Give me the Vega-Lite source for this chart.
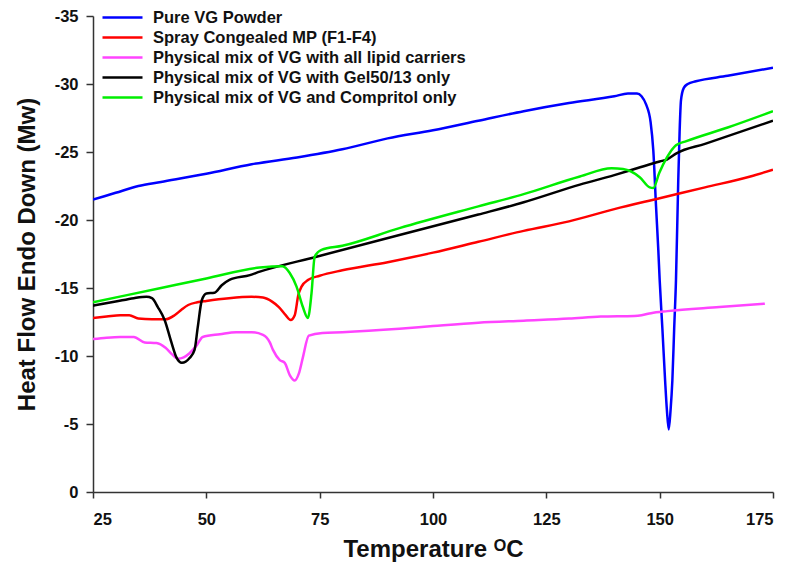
{
  "$schema": "https://vega.github.io/schema/vega-lite/v6.json",
  "autosize": "none",
  "width": 680,
  "height": 476,
  "padding": {"left": 93, "top": 16, "right": 17, "bottom": 79},
  "background": "white",
  "config": {
    "view": {"stroke": null},
    "font": "Liberation Sans"
  },
  "datasets": {
    "curves": [
      {"s": "Pure VG Powder", "t": 25, "v": -21.5},
      {"s": "Pure VG Powder", "t": 30, "v": -22.0},
      {"s": "Pure VG Powder", "t": 35, "v": -22.5},
      {"s": "Pure VG Powder", "t": 40, "v": -22.8},
      {"s": "Pure VG Powder", "t": 50, "v": -23.4},
      {"s": "Pure VG Powder", "t": 60, "v": -24.1},
      {"s": "Pure VG Powder", "t": 70, "v": -24.6},
      {"s": "Pure VG Powder", "t": 80, "v": -25.2},
      {"s": "Pure VG Powder", "t": 90, "v": -26.0},
      {"s": "Pure VG Powder", "t": 100, "v": -26.6},
      {"s": "Pure VG Powder", "t": 110, "v": -27.3},
      {"s": "Pure VG Powder", "t": 120, "v": -28.0},
      {"s": "Pure VG Powder", "t": 130, "v": -28.6},
      {"s": "Pure VG Powder", "t": 140, "v": -29.1},
      {"s": "Pure VG Powder", "t": 143, "v": -29.3},
      {"s": "Pure VG Powder", "t": 145, "v": -29.3},
      {"s": "Pure VG Powder", "t": 146, "v": -29.1},
      {"s": "Pure VG Powder", "t": 147, "v": -28.5},
      {"s": "Pure VG Powder", "t": 148, "v": -27.2},
      {"s": "Pure VG Powder", "t": 148.6, "v": -25.1},
      {"s": "Pure VG Powder", "t": 149.2, "v": -21.0},
      {"s": "Pure VG Powder", "t": 149.7, "v": -17.8},
      {"s": "Pure VG Powder", "t": 150.0, "v": -15.6},
      {"s": "Pure VG Powder", "t": 150.6, "v": -12.0},
      {"s": "Pure VG Powder", "t": 151.2, "v": -8.2},
      {"s": "Pure VG Powder", "t": 151.6, "v": -6.0},
      {"s": "Pure VG Powder", "t": 152.0, "v": -4.6},
      {"s": "Pure VG Powder", "t": 152.4, "v": -6.0},
      {"s": "Pure VG Powder", "t": 152.8, "v": -8.2},
      {"s": "Pure VG Powder", "t": 153.2, "v": -12.0},
      {"s": "Pure VG Powder", "t": 153.6, "v": -15.6},
      {"s": "Pure VG Powder", "t": 154.1, "v": -22.9},
      {"s": "Pure VG Powder", "t": 154.4, "v": -26.5},
      {"s": "Pure VG Powder", "t": 154.7, "v": -28.8},
      {"s": "Pure VG Powder", "t": 155.3, "v": -29.7},
      {"s": "Pure VG Powder", "t": 156.2, "v": -30.0},
      {"s": "Pure VG Powder", "t": 158, "v": -30.2},
      {"s": "Pure VG Powder", "t": 165, "v": -30.6},
      {"s": "Pure VG Powder", "t": 175, "v": -31.2},

      {"s": "Spray Congealed MP (F1-F4)", "t": 25, "v": -12.8},
      {"s": "Spray Congealed MP (F1-F4)", "t": 28, "v": -12.9},
      {"s": "Spray Congealed MP (F1-F4)", "t": 31, "v": -13.0},
      {"s": "Spray Congealed MP (F1-F4)", "t": 33, "v": -13.0},
      {"s": "Spray Congealed MP (F1-F4)", "t": 35, "v": -12.75},
      {"s": "Spray Congealed MP (F1-F4)", "t": 38, "v": -12.7},
      {"s": "Spray Congealed MP (F1-F4)", "t": 41, "v": -12.7},
      {"s": "Spray Congealed MP (F1-F4)", "t": 43, "v": -13.0},
      {"s": "Spray Congealed MP (F1-F4)", "t": 44.5, "v": -13.4},
      {"s": "Spray Congealed MP (F1-F4)", "t": 46, "v": -13.75},
      {"s": "Spray Congealed MP (F1-F4)", "t": 48, "v": -13.95},
      {"s": "Spray Congealed MP (F1-F4)", "t": 50, "v": -14.05},
      {"s": "Spray Congealed MP (F1-F4)", "t": 55, "v": -14.25},
      {"s": "Spray Congealed MP (F1-F4)", "t": 60, "v": -14.35},
      {"s": "Spray Congealed MP (F1-F4)", "t": 62.5, "v": -14.3},
      {"s": "Spray Congealed MP (F1-F4)", "t": 64.5, "v": -14.0},
      {"s": "Spray Congealed MP (F1-F4)", "t": 66, "v": -13.6},
      {"s": "Spray Congealed MP (F1-F4)", "t": 67.5, "v": -13.0},
      {"s": "Spray Congealed MP (F1-F4)", "t": 68.6, "v": -12.65},
      {"s": "Spray Congealed MP (F1-F4)", "t": 69.5, "v": -13.0},
      {"s": "Spray Congealed MP (F1-F4)", "t": 70.3, "v": -14.5},
      {"s": "Spray Congealed MP (F1-F4)", "t": 71, "v": -15.1},
      {"s": "Spray Congealed MP (F1-F4)", "t": 72.5, "v": -15.6},
      {"s": "Spray Congealed MP (F1-F4)", "t": 75, "v": -15.9},
      {"s": "Spray Congealed MP (F1-F4)", "t": 80, "v": -16.3},
      {"s": "Spray Congealed MP (F1-F4)", "t": 90, "v": -16.9},
      {"s": "Spray Congealed MP (F1-F4)", "t": 100, "v": -17.6},
      {"s": "Spray Congealed MP (F1-F4)", "t": 110, "v": -18.4},
      {"s": "Spray Congealed MP (F1-F4)", "t": 120, "v": -19.2},
      {"s": "Spray Congealed MP (F1-F4)", "t": 130, "v": -19.9},
      {"s": "Spray Congealed MP (F1-F4)", "t": 140, "v": -20.8},
      {"s": "Spray Congealed MP (F1-F4)", "t": 150, "v": -21.6},
      {"s": "Spray Congealed MP (F1-F4)", "t": 160, "v": -22.4},
      {"s": "Spray Congealed MP (F1-F4)", "t": 170, "v": -23.2},
      {"s": "Spray Congealed MP (F1-F4)", "t": 175, "v": -23.7},

      {"s": "Physical mix of VG with all lipid carriers", "t": 25, "v": -11.25},
      {"s": "Physical mix of VG with all lipid carriers", "t": 28, "v": -11.35},
      {"s": "Physical mix of VG with all lipid carriers", "t": 31, "v": -11.4},
      {"s": "Physical mix of VG with all lipid carriers", "t": 34, "v": -11.4},
      {"s": "Physical mix of VG with all lipid carriers", "t": 36.4, "v": -11.0},
      {"s": "Physical mix of VG with all lipid carriers", "t": 39, "v": -10.95},
      {"s": "Physical mix of VG with all lipid carriers", "t": 41, "v": -10.6},
      {"s": "Physical mix of VG with all lipid carriers", "t": 42.5, "v": -10.1},
      {"s": "Physical mix of VG with all lipid carriers", "t": 43.7, "v": -9.8},
      {"s": "Physical mix of VG with all lipid carriers", "t": 45, "v": -9.9},
      {"s": "Physical mix of VG with all lipid carriers", "t": 46.3, "v": -10.2},
      {"s": "Physical mix of VG with all lipid carriers", "t": 47.9, "v": -10.8},
      {"s": "Physical mix of VG with all lipid carriers", "t": 49.2, "v": -11.4},
      {"s": "Physical mix of VG with all lipid carriers", "t": 53, "v": -11.6},
      {"s": "Physical mix of VG with all lipid carriers", "t": 56.6, "v": -11.75},
      {"s": "Physical mix of VG with all lipid carriers", "t": 60, "v": -11.75},
      {"s": "Physical mix of VG with all lipid carriers", "t": 62.5, "v": -11.55},
      {"s": "Physical mix of VG with all lipid carriers", "t": 64, "v": -11.0},
      {"s": "Physical mix of VG with all lipid carriers", "t": 64.7, "v": -10.45},
      {"s": "Physical mix of VG with all lipid carriers", "t": 66.2, "v": -9.7},
      {"s": "Physical mix of VG with all lipid carriers", "t": 67.3, "v": -9.5},
      {"s": "Physical mix of VG with all lipid carriers", "t": 68.4, "v": -8.6},
      {"s": "Physical mix of VG with all lipid carriers", "t": 69.5, "v": -8.2},
      {"s": "Physical mix of VG with all lipid carriers", "t": 70.4, "v": -8.7},
      {"s": "Physical mix of VG with all lipid carriers", "t": 71.3, "v": -9.9},
      {"s": "Physical mix of VG with all lipid carriers", "t": 72.6, "v": -11.5},
      {"s": "Physical mix of VG with all lipid carriers", "t": 75.6, "v": -11.7},
      {"s": "Physical mix of VG with all lipid carriers", "t": 80, "v": -11.75},
      {"s": "Physical mix of VG with all lipid carriers", "t": 92.6, "v": -12.0},
      {"s": "Physical mix of VG with all lipid carriers", "t": 100, "v": -12.2},
      {"s": "Physical mix of VG with all lipid carriers", "t": 110, "v": -12.45},
      {"s": "Physical mix of VG with all lipid carriers", "t": 120, "v": -12.6},
      {"s": "Physical mix of VG with all lipid carriers", "t": 130, "v": -12.75},
      {"s": "Physical mix of VG with all lipid carriers", "t": 137, "v": -12.9},
      {"s": "Physical mix of VG with all lipid carriers", "t": 144.4, "v": -12.95},
      {"s": "Physical mix of VG with all lipid carriers", "t": 146, "v": -13.0},
      {"s": "Physical mix of VG with all lipid carriers", "t": 148.1, "v": -13.15},
      {"s": "Physical mix of VG with all lipid carriers", "t": 151.7, "v": -13.3},
      {"s": "Physical mix of VG with all lipid carriers", "t": 163.2, "v": -13.6},
      {"s": "Physical mix of VG with all lipid carriers", "t": 173.2, "v": -13.85},

      {"s": "Physical mix of VG with Gel50/13 only", "t": 25, "v": -13.7},
      {"s": "Physical mix of VG with Gel50/13 only", "t": 30, "v": -14.0},
      {"s": "Physical mix of VG with Gel50/13 only", "t": 34, "v": -14.25},
      {"s": "Physical mix of VG with Gel50/13 only", "t": 36.8, "v": -14.35},
      {"s": "Physical mix of VG with Gel50/13 only", "t": 38, "v": -14.25},
      {"s": "Physical mix of VG with Gel50/13 only", "t": 39.3, "v": -13.6},
      {"s": "Physical mix of VG with Gel50/13 only", "t": 40.8, "v": -12.65},
      {"s": "Physical mix of VG with Gel50/13 only", "t": 42.3, "v": -11.0},
      {"s": "Physical mix of VG with Gel50/13 only", "t": 43.4, "v": -9.9},
      {"s": "Physical mix of VG with Gel50/13 only", "t": 44.6, "v": -9.5},
      {"s": "Physical mix of VG with Gel50/13 only", "t": 46.3, "v": -9.85},
      {"s": "Physical mix of VG with Gel50/13 only", "t": 47.4, "v": -10.45},
      {"s": "Physical mix of VG with Gel50/13 only", "t": 48.1, "v": -12.1},
      {"s": "Physical mix of VG with Gel50/13 only", "t": 49, "v": -14.1},
      {"s": "Physical mix of VG with Gel50/13 only", "t": 50, "v": -14.6},
      {"s": "Physical mix of VG with Gel50/13 only", "t": 51.8, "v": -14.65},
      {"s": "Physical mix of VG with Gel50/13 only", "t": 53.4, "v": -15.2},
      {"s": "Physical mix of VG with Gel50/13 only", "t": 55.1, "v": -15.6},
      {"s": "Physical mix of VG with Gel50/13 only", "t": 59.6, "v": -15.95},
      {"s": "Physical mix of VG with Gel50/13 only", "t": 61.8, "v": -16.2},
      {"s": "Physical mix of VG with Gel50/13 only", "t": 74.3, "v": -17.3},
      {"s": "Physical mix of VG with Gel50/13 only", "t": 92.6, "v": -18.9},
      {"s": "Physical mix of VG with Gel50/13 only", "t": 110, "v": -20.4},
      {"s": "Physical mix of VG with Gel50/13 only", "t": 120, "v": -21.3},
      {"s": "Physical mix of VG with Gel50/13 only", "t": 132.4, "v": -22.6},
      {"s": "Physical mix of VG with Gel50/13 only", "t": 140, "v": -23.3},
      {"s": "Physical mix of VG with Gel50/13 only", "t": 145, "v": -23.8},
      {"s": "Physical mix of VG with Gel50/13 only", "t": 150, "v": -24.3},
      {"s": "Physical mix of VG with Gel50/13 only", "t": 151.6, "v": -24.45},
      {"s": "Physical mix of VG with Gel50/13 only", "t": 153.7, "v": -24.9},
      {"s": "Physical mix of VG with Gel50/13 only", "t": 160, "v": -25.6},
      {"s": "Physical mix of VG with Gel50/13 only", "t": 175, "v": -27.3},

      {"s": "Physical mix of VG and Compritol only", "t": 25, "v": -13.95},
      {"s": "Physical mix of VG and Compritol only", "t": 40, "v": -15.0},
      {"s": "Physical mix of VG and Compritol only", "t": 50, "v": -15.7},
      {"s": "Physical mix of VG and Compritol only", "t": 61.8, "v": -16.5},
      {"s": "Physical mix of VG and Compritol only", "t": 66.8, "v": -16.6},
      {"s": "Physical mix of VG and Compritol only", "t": 68.4, "v": -16.1},
      {"s": "Physical mix of VG and Compritol only", "t": 69.9, "v": -15.1},
      {"s": "Physical mix of VG and Compritol only", "t": 71.3, "v": -13.6},
      {"s": "Physical mix of VG and Compritol only", "t": 72.4, "v": -12.8},
      {"s": "Physical mix of VG and Compritol only", "t": 73.2, "v": -14.6},
      {"s": "Physical mix of VG and Compritol only", "t": 73.9, "v": -17.3},
      {"s": "Physical mix of VG and Compritol only", "t": 75.4, "v": -17.8},
      {"s": "Physical mix of VG and Compritol only", "t": 80, "v": -18.1},
      {"s": "Physical mix of VG and Compritol only", "t": 92.6, "v": -19.4},
      {"s": "Physical mix of VG and Compritol only", "t": 110, "v": -21.0},
      {"s": "Physical mix of VG and Compritol only", "t": 120, "v": -21.9},
      {"s": "Physical mix of VG and Compritol only", "t": 132.4, "v": -23.2},
      {"s": "Physical mix of VG and Compritol only", "t": 139.4, "v": -23.8},
      {"s": "Physical mix of VG and Compritol only", "t": 141.9, "v": -23.75},
      {"s": "Physical mix of VG and Compritol only", "t": 145.6, "v": -23.15},
      {"s": "Physical mix of VG and Compritol only", "t": 147.8, "v": -22.4},
      {"s": "Physical mix of VG and Compritol only", "t": 148.6, "v": -22.35},
      {"s": "Physical mix of VG and Compritol only", "t": 149.9, "v": -23.45},
      {"s": "Physical mix of VG and Compritol only", "t": 151.6, "v": -24.6},
      {"s": "Physical mix of VG and Compritol only", "t": 153.6, "v": -25.5},
      {"s": "Physical mix of VG and Compritol only", "t": 155.9, "v": -25.8},
      {"s": "Physical mix of VG and Compritol only", "t": 165, "v": -26.8},
      {"s": "Physical mix of VG and Compritol only", "t": 175, "v": -28.0}
    ]
  },
  "data": {"name": "curves"},
  "mark": {"type": "line", "strokeWidth": 2.5, "interpolate": "monotone", "clip": true},
  "encoding": {
    "x": {
      "field": "t",
      "type": "quantitative",
      "scale": {"domain": [25, 175], "nice": false, "zero": false},
      "axis": {
        "values": [25, 50, 75, 100, 125, 150, 175],
        "grid": false,
        "domainColor": "#333333",
        "domainWidth": 1.5,
        "tickColor": "#333333",
        "tickWidth": 1.5,
        "tickSize": 6,
        "labelFont": "Liberation Sans",
        "labelFontWeight": "bold",
        "labelFontSize": 16.5,
        "labelColor": "#111111",
        "labelPadding": 13,
        "title": "Temperature ᴼC",
        "titleFont": "Liberation Sans",
        "titleFontWeight": "bold",
        "titleFontSize": 24,
        "titleColor": "#111111",
        "titlePadding": 10
      }
    },
    "y": {
      "field": "v",
      "type": "quantitative",
      "scale": {"domain": [-35, 0], "reverse": true, "nice": false, "zero": false},
      "axis": {
        "values": [-35, -30, -25, -20, -15, -10, -5, 0],
        "labelExpr": "datum.value == 0 ? '0' : '-' + abs(datum.value)",
        "grid": false,
        "domainColor": "#333333",
        "domainWidth": 1.5,
        "tickColor": "#333333",
        "tickWidth": 1.5,
        "tickSize": 7,
        "labelFont": "Liberation Sans",
        "labelFontWeight": "bold",
        "labelFontSize": 16.5,
        "labelColor": "#111111",
        "labelPadding": 8,
        "title": "Heat Flow Endo Down (Mw)",
        "titleFont": "Liberation Sans",
        "titleFontWeight": "bold",
        "titleFontSize": 24,
        "titleColor": "#111111",
        "titlePadding": 15
      }
    },
    "color": {
      "field": "s",
      "type": "nominal",
      "sort": ["Pure VG Powder", "Spray Congealed MP (F1-F4)", "Physical mix of VG with all lipid carriers", "Physical mix of VG with Gel50/13 only", "Physical mix of VG and Compritol only"],
      "scale": {
        "domain": ["Pure VG Powder", "Spray Congealed MP (F1-F4)", "Physical mix of VG with all lipid carriers", "Physical mix of VG with Gel50/13 only", "Physical mix of VG and Compritol only"],
        "range": ["#0000ff", "#ff0000", "#ff44ff", "#000000", "#00ee00"]
      },
      "legend": {
        "orient": "none",
        "legendX": 18,
        "legendY": -10,
        "title": null,
        "padding": 0,
        "symbolType": "M-2,0H2",
        "symbolSize": 400,
        "symbolStrokeWidth": 2.5,
        "labelFont": "Liberation Sans",
        "labelFontWeight": "bold",
        "labelFontSize": 16.5,
        "labelColor": "#111111",
        "labelOffset": 19,
        "labelLimit": 500,
        "rowPadding": -0.5
      }
    }
  }
}
